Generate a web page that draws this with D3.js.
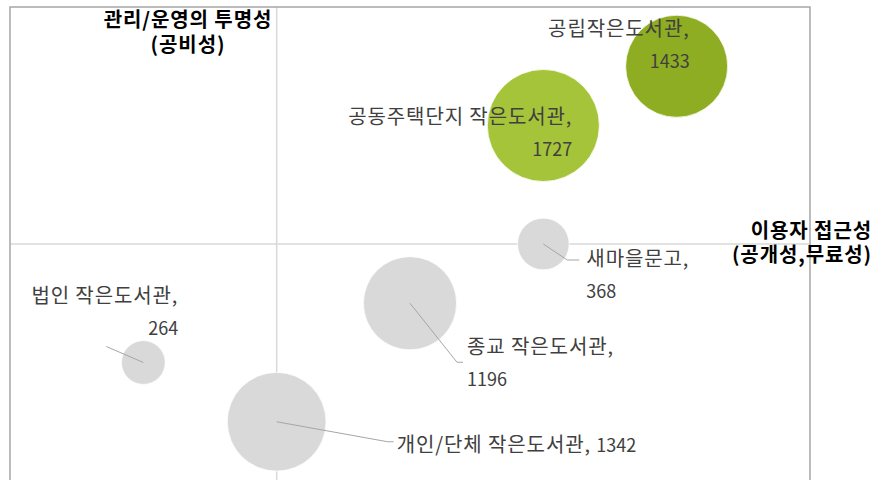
<!DOCTYPE html>
<meta charset="utf-8">
<html>
  <head>
    <title>작은도서관 유형별 포지셔닝</title>
    <style>
      body { margin: 0; background: #fff; }
      text { font-family: "Noto Sans CJK KR", "Noto Sans", sans-serif; }
      text.lbl { font-size: 20px; fill: #404040; }
      tspan.name { letter-spacing: 0.9px; }
      tspan.num { font-size: 18px; letter-spacing: 0; }
      text.ttl { font-size: 20px; font-weight: bold; fill: #000; letter-spacing: 0.9px; }
      path.leader { stroke: #a6a6a6; stroke-width: 1px; fill: none; }
    </style>
    <script src="https://cdn.jsdelivr.net/npm/d3@7"></script>
  </head>
  <body>
    <div id="chart"></div>
    <script type="text/javascript">
    // data
    var names = ["공립작은도서관", "공동주택단지 작은도서관", "새마을문고", "법인 작은도서관", "종교 작은도서관", "개인/단체 작은도서관"];
    var xVals = [6, 4, 4, -2, 2, 0];       // 이용자 접근성
    var yVals = [6, 4, 0, -4, -2, -6];     // 관리/운영의 투명성
    var sizes = [1433, 1727, 368, 264, 1196, 1342];
    var xDomain = [-4, 8];
    var yDomain = [-8, 8];

    // styling / label layout (px offsets from bubble centre)
    var fills = ["#8fad22", "#a5c43a", "#d9d9d9", "#d9d9d9", "#d9d9d9", "#d9d9d9"];
    var labelPos = [
      { anchor: "end",   dx: 13,  dy: -30, lines: 2, leader: null },
      { anchor: "end",   dx: 29,  dy: -2,  lines: 2, leader: null },
      { anchor: "start", dx: 43,  dy: 22,  lines: 2, leader: [[24, 16], [36, 16]] },
      { anchor: "end",   dx: 35,  dy: -60, lines: 2, leader: [[-37, -16]] },
      { anchor: "start", dx: 57,  dy: 51,  lines: 2, leader: [[47, 59], [53, 59]] },
      { anchor: "start", dx: 120, dy: 30,  lines: 1, leader: [[111, 20], [117, 20]] }
    ];

    var width = 875, height = 480;
    var plot = { left: 10, top: 7, right: 810, bottom: 481 };

    var svg = d3.select("#chart").append("svg")
      .attr("width", width)
      .attr("height", height);

    var x = d3.scaleLinear().domain(xDomain).range([plot.left, plot.right]);
    var y = d3.scaleLinear().domain(yDomain).range([plot.bottom, plot.top]);
    // bubble area proportional to value
    var r = d3.scaleSqrt().domain([0, d3.max(sizes)]).range([0, 56]);

    // axes through zero
    svg.append("line")
      .attr("x1", plot.left).attr("x2", plot.right)
      .attr("y1", y(0)).attr("y2", y(0))
      .attr("stroke", "#d9d9d9").attr("stroke-width", 1.5);
    svg.append("line")
      .attr("x1", x(0)).attr("x2", x(0))
      .attr("y1", plot.top).attr("y2", plot.bottom)
      .attr("stroke", "#d9d9d9").attr("stroke-width", 1.5);

    // plot border
    svg.append("rect")
      .attr("x", plot.left).attr("y", plot.top)
      .attr("width", plot.right - plot.left)
      .attr("height", plot.bottom - plot.top)
      .attr("fill", "none")
      .attr("stroke", "#a6a6a6")
      .attr("stroke-width", 1.5);

    var idx = d3.range(names.length);

    // bubbles
    svg.selectAll("circle.bubble")
      .data(idx)
      .enter()
      .append("circle")
      .attr("class", "bubble")
      .attr("cx", function(i) { return x(xVals[i]); })
      .attr("cy", function(i) { return y(yVals[i]); })
      .attr("r", function(i) { return r(sizes[i]); })
      .attr("fill", function(i) { return fills[i]; })
      .attr("stroke", "#fff")
      .attr("stroke-width", 0.75);

    // leader lines
    svg.selectAll("path.leader")
      .data(idx.filter(function(i) { return labelPos[i].leader; }))
      .enter()
      .append("path")
      .attr("class", "leader")
      .attr("d", function(i) {
        var cx = x(xVals[i]), cy = y(yVals[i]);
        var pts = [[cx, cy]].concat(labelPos[i].leader.map(function(p) { return [cx + p[0], cy + p[1]]; }));
        return d3.line()(pts);
      });

    // data labels
    var labels = svg.selectAll("text.lbl")
      .data(idx)
      .enter()
      .append("text")
      .attr("class", "lbl")
      .attr("text-anchor", function(i) { return labelPos[i].anchor; })
      .attr("x", function(i) { return x(xVals[i]) + labelPos[i].dx; })
      .attr("y", function(i) { return y(yVals[i]) + labelPos[i].dy; });

    labels.each(function(i) {
      var t = d3.select(this), lp = labelPos[i];
      if (lp.lines === 1) {
        t.append("tspan").attr("class", "name").text(names[i] + ", ");
        t.append("tspan").attr("class", "num").text(sizes[i]);
      } else {
        t.append("tspan").attr("class", "name").text(names[i] + ",");
        t.append("tspan")
          .attr("class", "num")
          .attr("x", x(xVals[i]) + lp.dx)
          .attr("dy", 32)
          .text(sizes[i]);
      }
    });

    // axis titles
    var yTitle = svg.append("text").attr("class", "ttl").attr("text-anchor", "middle");
    yTitle.append("tspan").attr("x", 188).attr("y", 27).text("관리/운영의 투명성");
    yTitle.append("tspan").attr("x", 188).attr("dy", 25).text("(공비성)");

    var xTitle = svg.append("text").attr("class", "ttl").attr("text-anchor", "end");
    xTitle.append("tspan").attr("x", 872).attr("y", 238).text("이용자 접근성");
    xTitle.append("tspan").attr("x", 872).attr("dy", 24).text("(공개성,무료성)");
    </script>
  </body>
</html>
